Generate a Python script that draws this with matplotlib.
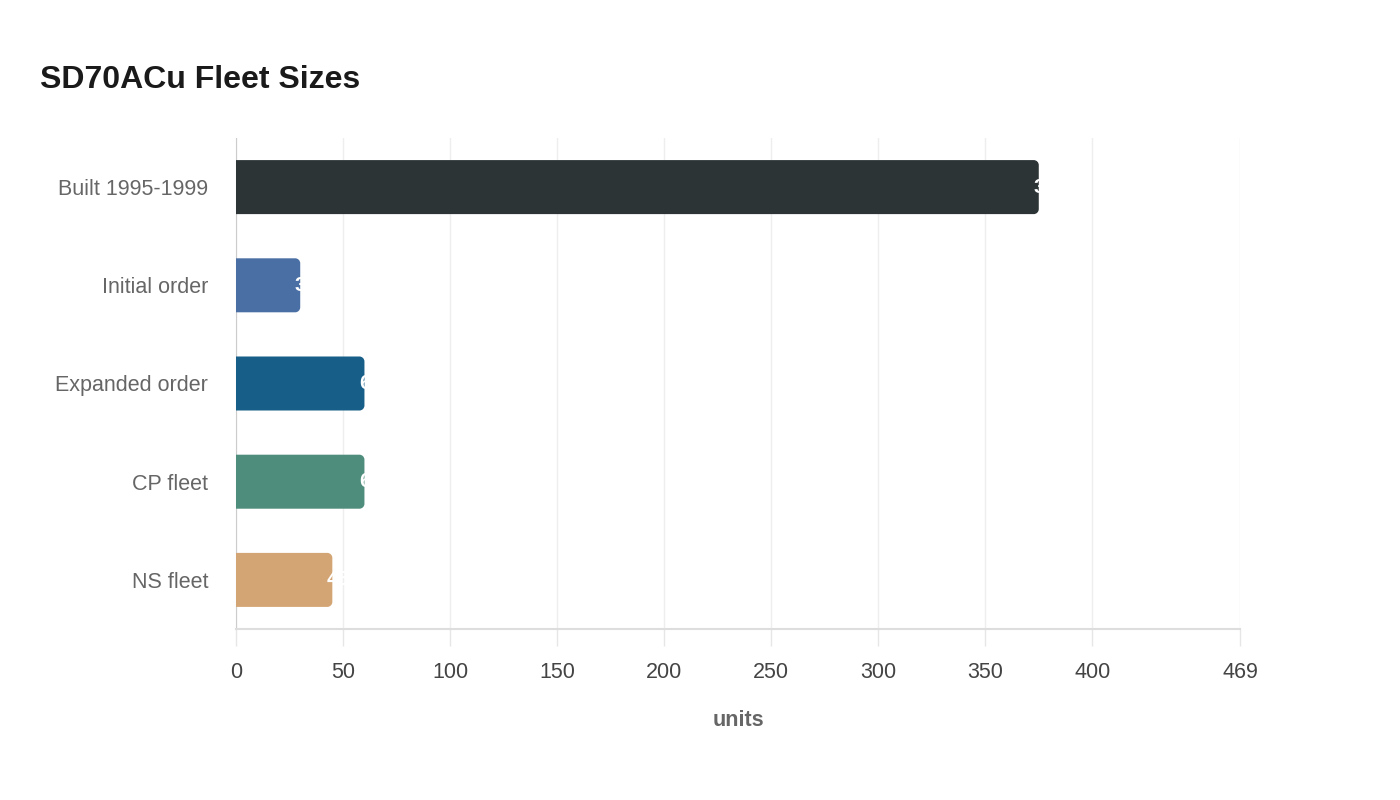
import matplotlib
matplotlib.use("Agg")
import matplotlib.pyplot as plt
from matplotlib.patches import PathPatch
from matplotlib.path import Path

categories = ["Built 1995-1999", "Initial order", "Expanded order", "CP fleet", "NS fleet"]
values = [375, 30, 60, 60, 45]
colors = ["#2d3436", "#4a6fa5", "#175f88", "#4e8d7c", "#d4a574"]
xticks = [0, 50, 100, 150, 200, 250, 300, 350, 400, 469]
xmax = 469

plt.rcParams['font.family'] = ['Liberation Sans', 'DejaVu Sans']

fig = plt.figure(figsize=(14, 8), dpi=100)
ax = fig.add_axes([236/1400, 1-629/800, (1240-236)/1400, (629-138)/800])
ax.set_xlim(0, xmax)
ax.set_ylim(4.5, -0.5)

bh = 0.55
ypos = list(range(len(categories)))
bars = ax.barh(ypos, values, height=bh, color=colors)

px_per_x = (1240-236) / xmax
px_per_y = (629-138) / 5.0
r_px = 5
rx = r_px / px_per_x
ry = r_px / px_per_y
k = 0.5523


def right_rounded(x0, y0, w, h):
    x1, y1 = x0 + w, y0 + h
    verts = [
        (x0, y0),
        (x1 - rx, y0),
        (x1 - rx + k*rx, y0), (x1, y0 + ry - k*ry), (x1, y0 + ry),
        (x1, y1 - ry),
        (x1, y1 - ry + k*ry), (x1 - rx + k*rx, y1), (x1 - rx, y1),
        (x0, y1),
        (x0, y0),
    ]
    codes = [Path.MOVETO, Path.LINETO,
             Path.CURVE4, Path.CURVE4, Path.CURVE4,
             Path.LINETO,
             Path.CURVE4, Path.CURVE4, Path.CURVE4,
             Path.LINETO, Path.CLOSEPOLY]
    return Path(verts, codes)


for b, c in zip(bars, colors):
    b.set_visible(False)
    p = PathPatch(right_rounded(b.get_x(), b.get_y(), b.get_width(), b.get_height()),
                  facecolor=c, edgecolor='none', zorder=3)
    ax.add_patch(p)

for y, v in zip(ypos, values):
    ax.annotate(str(v), (v, y), xytext=(-4, 0), textcoords='offset points',
                ha='left', va='center', color='white', fontsize=15,
                fontweight='bold', zorder=4)

ax.set_yticks(ypos)
ax.set_yticklabels(categories, fontsize=15.5, color='#666666')
ax.set_xticks(xticks)
ax.set_xticklabels([str(t) for t in xticks], fontsize=15.5, color='#444444')
ax.tick_params(axis='y', length=0, pad=20)
ax.tick_params(axis='x', length=12, color='#e6e6e6', width=1, pad=12, direction='out')

ax.grid(axis='x', color='#eeeeee', linewidth=1, zorder=0)
ax.set_axisbelow(True)
for s in ['top', 'right']:
    ax.spines[s].set_visible(False)
ax.spines['left'].set_color('#cccccc')
ax.spines['bottom'].set_color('#dddddd')
ax.spines['bottom'].set_linewidth(1.5)

ax.set_xlabel("units", fontsize=15.5, fontweight='bold', color='#666666', labelpad=19)

fig.text(40/1400, 1-80/800, "SD70ACu Fleet Sizes", fontsize=23, fontweight='bold',
         color='#1a1a1a', va='center', ha='left')

fig.savefig("out.png", dpi=100, facecolor='white')
